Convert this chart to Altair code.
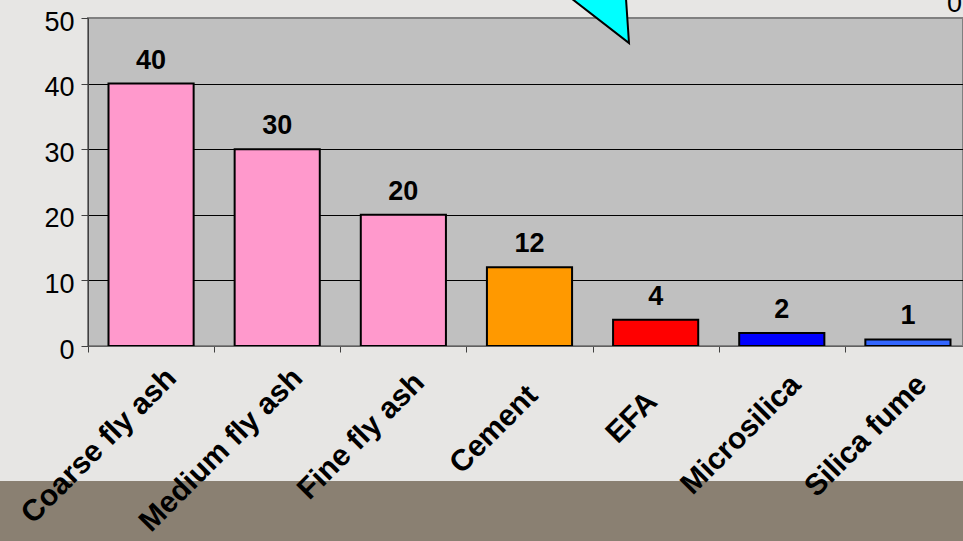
import altair as alt
import pandas as pd

categories = ["Coarse fly ash", "Medium fly ash", "Fine fly ash", "Cement", "EFA", "Microsilica", "Silica fume"]
values = [40, 30, 20, 12, 4, 2, 1]
colors = ["#FF99CC", "#FF99CC", "#FF99CC", "#FF9900", "#FF0000", "#0000FF", "#3366FF"]
y_ticks = [0, 10, 20, 30, 40, 50]

df = pd.DataFrame({"cat": categories, "val": values, "col": colors})

FONT = "Liberation Sans"

x_enc = alt.X("cat:N", sort=categories, title=None,
              scale=alt.Scale(range=[0, 883], paddingInner=0, paddingOuter=0),
              axis=alt.Axis(labels=False, tickBand="extent", tickSize=6, tickColor="#404040",
                            domainColor="#606060", zindex=1, grid=False))
y_enc = alt.Y("val:Q", title=None,
              scale=alt.Scale(domain=[0, 50], nice=False),
              axis=alt.Axis(values=y_ticks, labelFontSize=27, labelFont=FONT,
                            labelColor="black", labelPadding=7, labelOffset=4, tickSize=7,
                            tickColor="#404040", domainColor="#404040",
                            gridColor=alt.condition("datum.value == 50", alt.value("#808080"), alt.value("black")),
                            gridWidth=1, zindex=0))

base = alt.Chart(df)

bars = base.mark_bar(width=alt.RelativeBandSize(0.675), stroke="black", strokeWidth=2).encode(
    x=x_enc, y=y_enc, color=alt.Color("col:N", scale=None))

labels = base.mark_text(font=FONT, fontSize=27, fontWeight="bold", baseline="alphabetic", dy=-15, color="black").encode(
    x=alt.X("cat:N", sort=categories), y="val:Q", text="val:Q")

# slanted category labels: shorter names end a bit lower along the slant, as in the original
cat_labels = base.mark_text(font=FONT, fontSize=30, fontWeight="bold", angle=315, align="right",
                            baseline="alphabetic", color="black",
                            dx=alt.ExprRef("3.04 * length(datum.cat) - 47.5"), dy=43).encode(
    x=alt.X("cat:N", sort=categories), y=alt.datum(0), text="cat:N")

deco = alt.Data(values=[{"k": 1}])

band = alt.Chart(deco).mark_rect(color="#8A8072").encode(
    x=alt.value(-88), x2=alt.value(880), y=alt.value(463), y2=alt.value(530))

tri = alt.Chart(deco).mark_point(
    shape="M -0.43 -0.40 L 0.366 -0.40 L 0.41 0.25 Z",
    filled=True, fill="#00FFFF", stroke="black", strokeWidth=2, opacity=1, size=40000).encode(
    x=alt.value(500), y=alt.value(0))

zero = alt.Chart(deco).mark_text(text="0", font=FONT, fontSize=27, align="left", baseline="alphabetic", color="black").encode(
    x=alt.value(859), y=alt.value(-6))

chart = alt.layer(band, bars, labels, cat_labels, tri, zero).properties(
    width=875, height=328,
    autosize=alt.AutoSizeParams(type="none"),
    padding={"left": 88, "top": 18, "right": 0, "bottom": 195},
    background="#E7E6E4",
).configure_view(fill="#C0C0C0", stroke="#808080", strokeWidth=2)

chart.save("out.html", embed_options={"renderer": "svg", "actions": False})
